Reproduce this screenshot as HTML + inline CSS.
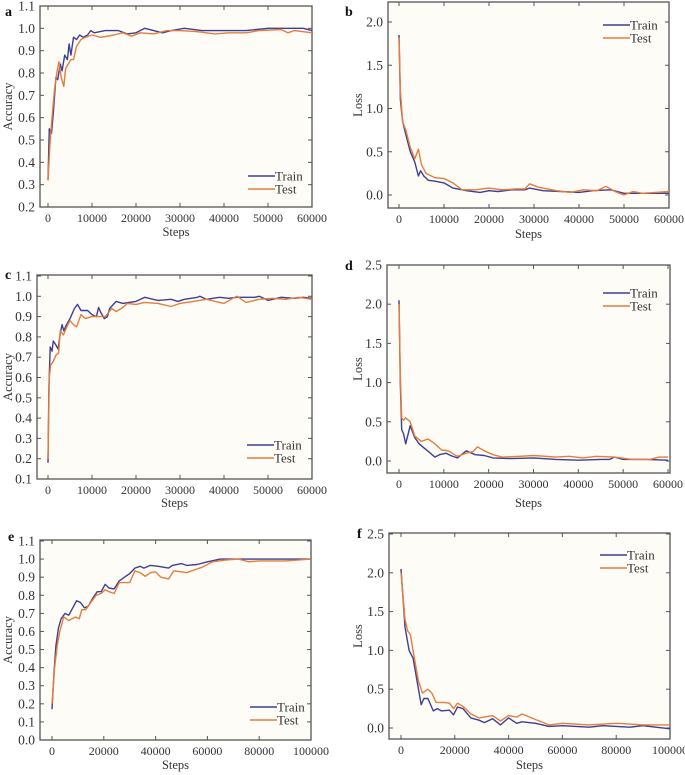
<!DOCTYPE html>
<html><head><meta charset="utf-8">
<style>
html,body{margin:0;padding:0;background:#fff;}
svg{display:block;font-family:"Liberation Serif",serif;}
</style></head>
<body>
<svg id="fig" width="685" height="775" viewBox="0 0 685 775" xmlns="http://www.w3.org/2000/svg"></svg>
<script>
// ---- data (steps, values) ----
const aTrainX=[0,300,800,1200,1800,2200,2800,3200,3800,4400,4800,5200,5800,6500,7200,8000,9000,9700,10500,13000,16000,18000,20000,22000,26000,28000,31000,35000,40000,45000,50000,55000,58000,60000];
const aTrainY=[0.32,0.55,0.53,0.62,0.78,0.77,0.84,0.81,0.88,0.86,0.93,0.88,0.96,0.95,0.97,0.96,0.97,0.99,0.98,0.99,0.99,0.975,0.98,1.0,0.98,0.99,1.0,0.99,0.99,0.99,1.0,1.0,1.0,0.99];
const aTestX=[0,500,1000,1500,2000,2500,3000,3600,4000,4600,5200,5800,6500,7500,8500,10000,12000,15000,17000,19000,21000,24000,27000,30000,34000,38000,41000,45000,48000,53000,54500,56000,60000];
const aTestY=[0.32,0.5,0.62,0.73,0.8,0.85,0.78,0.74,0.82,0.84,0.86,0.86,0.92,0.95,0.96,0.97,0.96,0.97,0.98,0.965,0.98,0.975,0.99,0.99,0.985,0.975,0.98,0.98,0.99,0.995,0.98,0.99,0.98];

const bTrainX=[0,300,800,1500,2500,3500,4300,4800,5500,6500,8000,10000,12000,15000,18000,20000,22000,25000,28000,29000,32000,36000,40000,43000,47000,50000,55000,60000];
const bTrainY=[1.85,1.1,0.85,0.7,0.5,0.38,0.22,0.28,0.22,0.17,0.16,0.14,0.08,0.05,0.03,0.05,0.04,0.06,0.06,0.08,0.05,0.04,0.03,0.05,0.06,0.02,0.02,0.02];
const bTestX=[0,300,800,1500,2500,3500,4300,5000,6000,8000,10000,12000,14000,17000,20000,23000,26000,28000,29000,31000,35000,38000,41000,44000,46000,48000,50000,52000,54000,57000,60000];
const bTestY=[1.82,1.2,0.85,0.75,0.55,0.42,0.53,0.35,0.25,0.2,0.19,0.14,0.06,0.06,0.08,0.06,0.07,0.07,0.13,0.09,0.05,0.03,0.06,0.05,0.1,0.04,0.0,0.04,0.02,0.03,0.04];

const cTrainX=[0,200,500,900,1200,1800,2300,2800,3200,3600,4200,5000,6000,6700,7500,9000,10000,11000,11500,12000,12800,13500,14000,15500,17000,20000,22000,25000,28000,29500,31000,34000,34500,36000,39000,41000,43000,47000,48000,50000,53000,56000,58000,60000];
const cTrainY=[0.18,0.55,0.75,0.73,0.78,0.76,0.74,0.82,0.86,0.83,0.86,0.89,0.94,0.96,0.93,0.93,0.91,0.9,0.945,0.92,0.89,0.9,0.94,0.975,0.965,0.975,0.995,0.98,0.985,0.975,0.985,0.995,1.0,0.985,0.995,0.99,0.995,0.995,1.0,0.98,0.995,0.99,0.995,0.99];
const cTestX=[0,300,600,1200,1800,2400,2800,3500,4500,5000,5800,6500,7500,8500,10000,12000,13000,14500,15500,17000,18000,20000,22000,25000,28000,30000,33000,36000,40000,42000,43000,45000,48000,51000,54000,57000,60000];
const cTestY=[0.2,0.6,0.66,0.68,0.71,0.72,0.83,0.81,0.86,0.88,0.86,0.85,0.91,0.89,0.9,0.9,0.9,0.94,0.925,0.945,0.965,0.96,0.97,0.965,0.95,0.965,0.975,0.985,0.965,0.99,1.0,0.97,0.985,0.99,0.985,0.995,0.985];

const dTrainX=[0,300,600,1000,1500,2500,3500,4500,5500,7000,8000,9000,10500,11500,13000,15000,17000,19000,21000,25000,30000,35000,40000,45000,47000,48000,50000,55000,60000];
const dTrainY=[2.05,1.0,0.4,0.35,0.22,0.45,0.3,0.22,0.17,0.1,0.05,0.08,0.1,0.07,0.04,0.13,0.08,0.07,0.04,0.03,0.04,0.02,0.01,0.02,0.02,0.05,0.02,0.02,0.01];
const dTestX=[0,300,600,1000,1500,2500,3500,5000,6500,8000,9500,11000,13000,15000,16500,17500,19000,21000,23000,27000,30000,35000,38000,41000,44000,48000,52000,56000,58000,60000];
const dTestY=[2.0,1.1,0.55,0.52,0.55,0.5,0.32,0.25,0.28,0.22,0.14,0.13,0.06,0.1,0.12,0.18,0.13,0.08,0.05,0.06,0.07,0.05,0.06,0.04,0.06,0.05,0.02,0.02,0.05,0.05];

const eTrainX=[0,800,1500,2500,3500,5000,6500,8000,9500,11000,12500,14000,16000,17500,19000,20500,22000,24000,26000,28000,30000,32000,34000,35500,38000,41000,45000,46500,50000,52000,56000,60000,65000,70000,100000];
const eTrainY=[0.17,0.38,0.52,0.62,0.67,0.7,0.69,0.73,0.77,0.76,0.73,0.74,0.79,0.82,0.82,0.86,0.84,0.835,0.88,0.9,0.92,0.95,0.96,0.95,0.965,0.96,0.95,0.965,0.975,0.965,0.97,0.985,1.0,1.0,1.0];
const eTestX=[0,1000,2000,3000,4500,6500,9000,10500,11500,13000,15000,17000,19000,20500,22000,24000,26000,28000,30000,32000,34000,36000,38000,40000,42000,45000,47000,50000,52000,55000,58000,62000,67000,72000,76000,80000,90000,100000];
const eTestY=[0.2,0.4,0.52,0.6,0.68,0.66,0.68,0.67,0.72,0.72,0.76,0.8,0.81,0.83,0.82,0.81,0.87,0.87,0.87,0.935,0.925,0.905,0.925,0.93,0.9,0.89,0.935,0.93,0.925,0.94,0.955,0.985,0.995,1.0,0.985,0.99,0.99,1.0];

const fTrainX=[0,1500,3000,4500,6000,7500,8500,10000,12000,13500,15000,18000,19500,21000,23000,26000,29000,31000,34000,37000,40000,43000,45000,50000,55000,60000,70000,75000,85000,90000,100000];
const fTrainY=[2.05,1.3,1.0,0.9,0.6,0.3,0.38,0.38,0.22,0.25,0.22,0.23,0.17,0.27,0.25,0.13,0.1,0.07,0.12,0.04,0.13,0.06,0.08,0.06,0.02,0.03,0.01,0.03,0.01,0.03,-0.01];
const fTestX=[0,1500,2500,3500,5000,6500,8000,10000,11500,13000,16000,18000,19500,21000,23000,26000,29000,31000,34000,37000,40000,43000,45000,50000,55000,60000,70000,80000,90000,100000];
const fTestY=[2.0,1.4,1.25,1.2,0.9,0.6,0.45,0.5,0.45,0.33,0.33,0.32,0.25,0.32,0.28,0.18,0.13,0.14,0.16,0.09,0.16,0.14,0.18,0.11,0.04,0.06,0.04,0.06,0.04,0.04];

// tick label arrays
const accTicksA=[0.2,0.3,0.4,0.5,0.6,0.7,0.8,0.9,1.0,1.1];
const accTicksC=[0.1,0.2,0.3,0.4,0.5,0.6,0.7,0.8,0.9,1.0,1.1];
const accTicksE=[0.0,0.1,0.2,0.3,0.4,0.5,0.6,0.7,0.8,0.9,1.0,1.1];
const lossTicksB=[0.0,0.5,1.0,1.5,2.0];
const lossTicksD=[0.0,0.5,1.0,1.5,2.0,2.5];
const stepTicks60=[0,10000,20000,30000,40000,50000,60000];
const stepTicks100=[0,20000,40000,60000,80000,100000];

const TRAIN='#3d3f94', TEST='#e67d3c';
const svg=document.getElementById('fig');
const NS='http://www.w3.org/2000/svg';
function mk(tag,attrs,parent){const e=document.createElementNS(NS,tag);for(const k in attrs)e.setAttribute(k,attrs[k]);(parent||svg).appendChild(e);return e;}
function txt(s,attrs,parent){const e=mk('text',attrs,parent);e.textContent=s;return e;}

function panel(p){
  const g=mk('g',{});
  
  
  const fr=mk('rect',{x:p.L,y:p.T,width:p.R-p.L,height:p.B-p.T,fill:'#fdfcf7',stroke:'#555',"stroke-width":1.3},g);
  
  
  const sx=v=>p.x0+(v-p.xmin)/(p.xmax-p.xmin)*(p.x1-p.x0);
  const sy=v=>p.y0+(v-p.ymin)/(p.ymax-p.ymin)*(p.y1-p.y0);
  p.yt.forEach(v=>{const y=sy(v);
    mk('line',{x1:p.L,x2:p.L+4,y1:y,y2:y,stroke:'#555'},g);
    mk('line',{x1:p.R,x2:p.R-4,y1:y,y2:y,stroke:'#555'},g);
    const t=txt(v.toFixed(1),{x:p.L-5,y:y+4.5,'text-anchor':'end','font-size':13.5,fill:'#333'},g);
    
    
  });
  p.xt.forEach(v=>{const x=sx(v);
    mk('line',{x1:x,x2:x,y1:p.B,y2:p.B-4,stroke:'#555'},g);
    mk('line',{x1:x,x2:x,y1:p.T,y2:p.T+4,stroke:'#555'},g);
    const t=txt(String(v),{x:x,y:p.B+15,'text-anchor':'middle','font-size':12,fill:'#333'},g);
    
    
  });
  const xl=txt('Steps',{x:(p.L+p.R)/2,y:p.xlY,'text-anchor':'middle','font-size':12.5,fill:'#333'},g);
  
  
  const yl=txt(p.ylab,{x:0,y:0,'text-anchor':'middle','font-size':12.5,fill:'#333',transform:`translate(${p.ylX},${(p.T+p.B)/2}) rotate(-90)`},g);
  
  
  const pl=txt(p.id,{x:p.lx,y:p.ly,'font-size':14,'font-weight':'bold',fill:'#111'},g);
  
  
  [[p.trX,p.trY,TRAIN,'train-line'],[p.teX,p.teY,TEST,'test-line']].forEach(s=>{
    const d=s[0].map((v,i)=>(i?'L':'M')+sx(v).toFixed(1)+','+sy(s[1][i]).toFixed(1)).join('');
    const path=mk('path',{d:d,fill:'none',stroke:s[2],'stroke-width':1.4,'stroke-linejoin':'round'},g);
    
    
  });
  [['Train',TRAIN,0],['Test',TEST,13]].forEach(e=>{
    const lg=mk('g',{},g);
    
    
    mk('line',{x1:p.legX,x2:p.legX+27,y1:p.legY+e[2],y2:p.legY+e[2],stroke:e[1],'stroke-width':1.6},lg);
    txt(e[0],{x:p.legX+27,y:p.legY+e[2]+4.5,'font-size':13,fill:'#333'},lg);
  });
}

panel({id:'a',L:40,R:312,T:6,B:207,x0:48,x1:312,xmin:0,xmax:60000,y0:207,y1:6,ymin:0.2,ymax:1.1,yt:accTicksA,xt:stepTicks60,trX:aTrainX,trY:aTrainY,teX:aTestX,teY:aTestY,ylab:'Accuracy',ylX:12,xlY:236,lx:5,ly:16,legX:248,legY:176});
panel({id:'b',L:388,R:669,T:2,B:208,x0:399,x1:669,xmin:0,xmax:60000,y0:195,y1:22,ymin:0,ymax:2.0,yt:lossTicksB,xt:stepTicks60,trX:bTrainX,trY:bTrainY,teX:bTestX,teY:bTestY,ylab:'Loss',ylX:362,xlY:238,lx:345,ly:16,legX:603,legY:25});
panel({id:'c',L:37,R:312,T:275,B:479,x0:48,x1:312,xmin:0,xmax:60000,y0:479,y1:276,ymin:0.1,ymax:1.1,yt:accTicksC,xt:stepTicks60,trX:cTrainX,trY:cTrainY,teX:cTestX,teY:cTestY,ylab:'Accuracy',ylX:12,xlY:507,lx:5,ly:279,legX:247,legY:445});
panel({id:'d',L:387,R:670,T:265,B:473,x0:399,x1:668,xmin:0,xmax:60000,y0:461,y1:265,ymin:0,ymax:2.5,yt:lossTicksD,xt:stepTicks60,trX:dTrainX,trY:dTrainY,teX:dTestX,teY:dTestY,ylab:'Loss',ylX:362,xlY:507,lx:345,ly:270,legX:603,legY:293});
panel({id:'e',L:40,R:311,T:540,B:740,x0:52,x1:311,xmin:0,xmax:100000,y0:740,y1:541,ymin:0,ymax:1.1,yt:accTicksE,xt:stepTicks100,trX:eTrainX,trY:eTrainY,teX:eTestX,teY:eTestY,ylab:'Accuracy',ylX:12,xlY:769,lx:8,ly:541,legX:250,legY:707});
panel({id:'f',L:389,R:670,T:533,B:739,x0:401,x1:670,xmin:0,xmax:100000,y0:728,y1:534,ymin:0,ymax:2.5,yt:lossTicksD,xt:stepTicks100,trX:fTrainX,trY:fTrainY,teX:fTestX,teY:fTestY,ylab:'Loss',ylX:362,xlY:769,lx:357,ly:538,legX:600,legY:555});
</script>
</body></html>
